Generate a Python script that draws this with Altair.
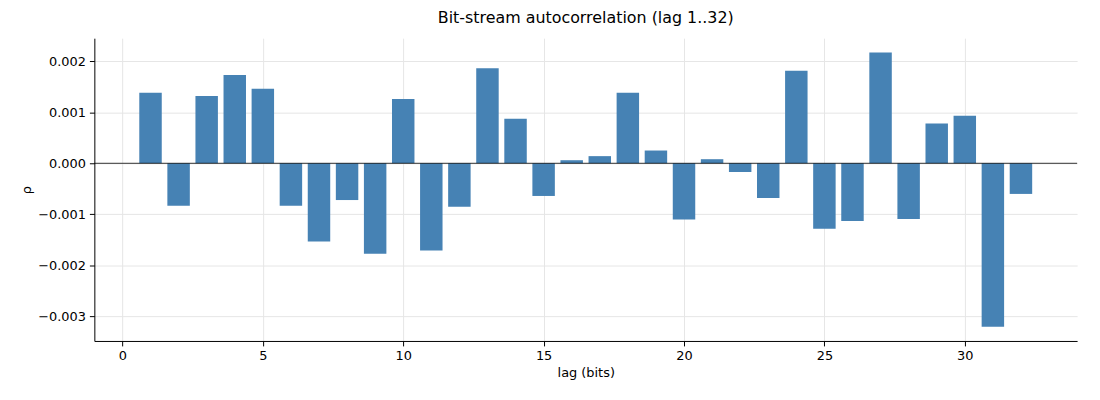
import altair as alt
import pandas as pd

lags = list(range(1, 33))
rho = [1.38, -0.83, 1.32, 1.73, 1.46, -0.83, -1.53, -0.72, -1.77, 1.26, -1.71, -0.85,
       1.86, 0.87, -0.64, 0.06, 0.14, 1.38, 0.25, -1.10, 0.08, -0.17, -0.68, 1.81,
       -1.28, -1.13, 2.17, -1.09, 0.78, 0.93, -3.20, -0.60]
rho = [r / 1000 for r in rho]

df = pd.DataFrame({"lag": lags, "rho": rho})

base = alt.Chart(df)
bars = base.transform_calculate(
    x0="datum.lag - 0.4", x1="datum.lag + 0.4"
).mark_bar(color="#4682b4").encode(
    x=alt.X("x0:Q", title="lag (bits)", scale=alt.Scale(domain=[-1, 34], nice=False, zero=False),
            axis=alt.Axis(values=[0, 5, 10, 15, 20, 25, 30], format="d")),
    x2="x1:Q",
    y=alt.Y("rho:Q", title="ρ", scale=alt.Scale(domain=[-0.00348, 0.00245], nice=False),
            axis=alt.Axis(values=[-0.003, -0.002, -0.001, 0, 0.001, 0.002], format=".3f")),
    y2=alt.datum(0),
)
zero = alt.Chart(pd.DataFrame({"z": [0]})).mark_rule(color="black", strokeWidth=0.8).encode(y="z:Q")

chart = alt.layer(bars, zero).properties(
    width=990, height=305,
    title=alt.TitleParams("Bit-stream autocorrelation (lag 1..32)", fontSize=16, fontWeight="normal",
                          font="DejaVu Sans", color="black", offset=12),
    autosize=alt.AutoSizeParams(type="none"),
    padding={"left": 87, "top": 29, "right": 15, "bottom": 50},
).configure_view(stroke=None).configure_axis(
    labelFont="DejaVu Sans", titleFont="DejaVu Sans", labelFontSize=13, titleFontSize=13,
    titleFontWeight="normal", labelColor="black", titleColor="black",
    domainColor="black", tickColor="black", gridColor="#e6e6e6", grid=True,
    tickSize=5, labelPadding=4,
)

chart.save("out.html", embed_options={"renderer": "svg", "actions": False})
